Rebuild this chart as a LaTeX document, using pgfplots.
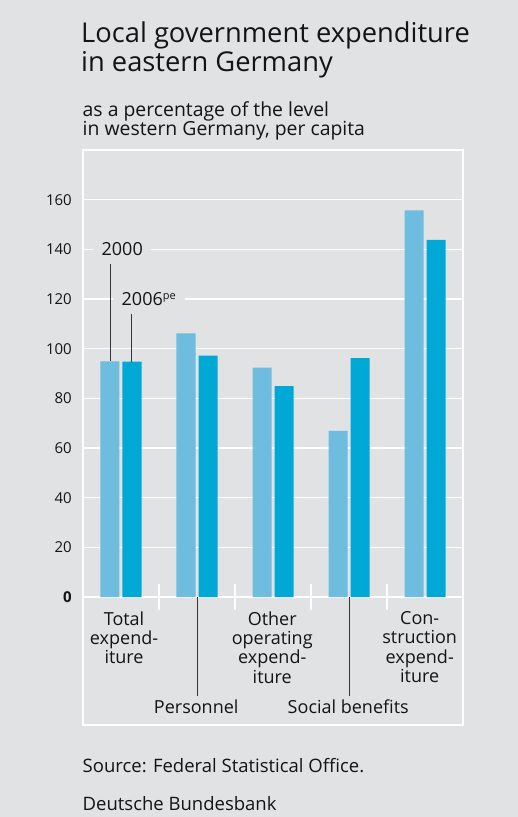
\documentclass[border=0pt]{standalone}
\usepackage{pgfplots}
\pgfplotsset{compat=1.18}
\usepackage{fontspec}
\setmainfont{Open Sans}
\definecolor{bg}{RGB}{225,226,228}
\definecolor{lightbar}{RGB}{110,188,222}
\definecolor{darkbar}{RGB}{0,168,214}
\definecolor{txt}{RGB}{20,20,20}
\begin{document}
\begin{tikzpicture}
\fill[bg] (0pt,0pt) rectangle (518pt,817pt);
\node[anchor=base west, inner sep=0pt, font=\fontsize{27.3}{32}\selectfont, text=txt] at (81pt,774.7pt) {Local government expenditure};
\node[anchor=base west, inner sep=0pt, font=\fontsize{27.3}{32}\selectfont, text=txt] at (81pt,745.3pt) {in eastern Germany};
\node[anchor=base west, inner sep=0pt, font=\fontsize{19.4}{22}\selectfont, text=txt] at (82.5pt,700.3pt) {as a percentage of the level};
\node[anchor=base west, inner sep=0pt, font=\fontsize{19.4}{22}\selectfont, text=txt] at (82.5pt,681pt) {in western Germany, per capita};
\node[anchor=base west, inner sep=0pt, font=\fontsize{18.5}{22}\selectfont, text=txt] at (82.5pt,44.7pt) {Source: Federal Statistical Office.};
\node[anchor=base west, inner sep=0pt, font=\fontsize{18.5}{22}\selectfont, text=txt] at (82.5pt,6.3pt) {Deutsche Bundesbank};
\begin{axis}[
  at={(83pt,92pt)}, anchor=south west,
  width=380pt, height=575pt, scale only axis,
  xmin=-0.5, xmax=4.5, ymin=-51.5, ymax=180,
  axis line style={white, line width=1.5pt},
  ymajorgrids, grid style={white, line width=1.5pt},
  major tick length=0pt,
  ytick={0,20,40,60,80,100,120,140,160},
  yticklabels={\textbf{0},20,40,60,80,100,120,140,160},
  yticklabel style={font=\fontsize{15}{18}\selectfont, text=txt, anchor=east, inner sep=0pt, xshift=-11pt},
  /pgf/number format/assume math mode=true,
  xtick={0.04,0.99,1.99,2.99,3.93},
  xticklabels={
    {Total\\expend-\\iture},
    {\raisebox{-101.3pt}[0pt][0pt]{Personnel}},
    {Other\\operating\\expend-\\iture},
    {\raisebox{-101.3pt}[0pt][0pt]{Social benefits}},
    {Con-\\struction\\expend-\\iture}},
  xticklabel style={font=\fontsize{18}{19.3}\selectfont, text=txt, align=center, anchor=north, inner sep=0pt, yshift=113.6pt},
  ybar, bar width=19pt,
]
\addplot[fill=lightbar, draw=none, bar shift=-11pt] coordinates {(0,94.9) (1,106.2) (2,92.4) (3,66.9) (4,155.7)};
\addplot[fill=darkbar, draw=none, bar shift=11pt] coordinates {(0,94.8) (1,97.2) (2,84.9) (3,96.2) (4,143.8)};
\draw[white, line width=1.5pt] (axis cs:0.5,5.1) -- (axis cs:0.5,-5.0);
\draw[white, line width=1.5pt] (axis cs:1.5,5.1) -- (axis cs:1.5,-5.0);
\draw[white, line width=1.5pt] (axis cs:2.5,5.1) -- (axis cs:2.5,-5.0);
\draw[white, line width=1.5pt] (axis cs:3.5,5.1) -- (axis cs:3.5,-5.0);
\node[fill=bg, inner xsep=8.5pt, inner ysep=3pt, font=\fontsize{18}{21}\selectfont, text=txt] at (axis cs:0.016,140) {2000};
\node[fill=bg, inner xsep=8.5pt, inner ysep=3pt, anchor=base, font=\fontsize{18}{21}\selectfont, text=txt] at (axis cs:0.368,117.2) {2006\textsuperscript{\fontsize{11}{12}\selectfont pe}};
\draw[txt!85, line width=0.8pt] (axis cs:-0.14,134.0) -- (axis cs:-0.14,94.9);
\draw[txt!85, line width=0.8pt] (axis cs:0.14,113.9) -- (axis cs:0.14,94.8);
\draw[txt!85, line width=0.8pt] (axis cs:1,0) -- (axis cs:1,-40);
\draw[txt!85, line width=0.8pt] (axis cs:3,0) -- (axis cs:3,-40);
\end{axis}
\end{tikzpicture}
\end{document}
